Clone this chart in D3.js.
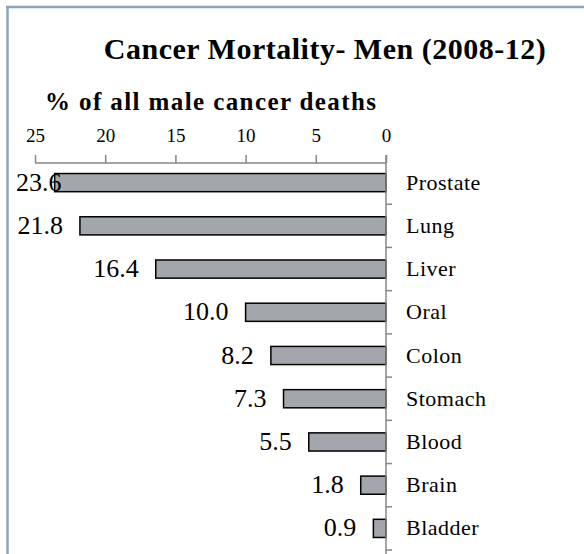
<!DOCTYPE html>
<html>
<head>
<meta charset="utf-8">
<script src="https://cdn.jsdelivr.net/npm/d3@7"></script>
<style>
  body { margin: 0; background: #fff; }
  text { font-family: "Liberation Serif", "DejaVu Serif", serif; fill: #000; }
</style>
</head>
<body>
<div id="chart"></div>
<script>
// Data
const categories = ["Prostate", "Lung", "Liver", "Oral", "Colon", "Stomach", "Blood", "Brain", "Bladder"];
const values = [23.6, 21.8, 16.4, 10.0, 8.2, 7.3, 5.5, 1.8, 0.9];
const tickValues = [25, 20, 15, 10, 5, 0];

const W = 584, H = 554;

const svg = d3.select("#chart")
    .append("svg")
    .attr("width", W)
    .attr("height", H);

// Chart frame (only left and top edges are visible)
svg.append("line")
    .attr("x1", 7.5).attr("x2", 7.5)
    .attr("y1", 6).attr("y2", H)
    .attr("stroke", "#8aa4b8").attr("stroke-width", 2.5);
svg.append("line")
    .attr("x1", 6).attr("x2", W)
    .attr("y1", 7).attr("y2", 7)
    .attr("stroke", "#8aa4b8").attr("stroke-width", 2.5);

// Scales: reversed x axis, zero on the right
const xScale = d3.scaleLinear()
    .domain([0, 25])
    .range([386, 35]);

const yScale = d3.scaleBand()
    .domain(categories)
    .range([161, 550])
    .padding(0);

const band = yScale.bandwidth();
const barH = band * 0.42;

// Titles
svg.append("text")
    .attr("x", 325)
    .attr("y", 59)
    .attr("text-anchor", "middle")
    .style("font-size", "30px")
    .style("font-weight", "bold")
    .style("letter-spacing", "0.5px")
    .text("Cancer Mortality- Men (2008-12)");

svg.append("text")
    .attr("x", 45)
    .attr("y", 110)
    .style("font-size", "25px")
    .style("font-weight", "bold")
    .style("letter-spacing", "1.4px")
    .text("% of all male cancer deaths");

// Top value axis
const xAxis = svg.append("g")
    .attr("transform", "translate(0,163)")
    .call(d3.axisTop(xScale).tickValues(tickValues).tickSize(8).tickPadding(13).tickFormat(d3.format("d")))
    .attr("font-family", "Liberation Serif")
    .attr("font-size", 19);
xAxis.select(".domain")
    .attr("d", `M${xScale(25)},0 L${xScale(0)},0`)
    .attr("stroke", "#868686").attr("stroke-width", 1.5);
xAxis.selectAll(".tick line").attr("stroke", "#868686").attr("stroke-width", 1.5);
xAxis.selectAll(".tick text")
    .attr("font-family", "Liberation Serif")
    .style("font-size", "19px");

// Bars
svg.selectAll("rect.bar")
    .data(values)
    .enter()
    .append("rect")
    .attr("class", "bar")
    .attr("x", d => xScale(d))
    .attr("y", (d, i) => yScale(categories[i]) + (band - barH) / 2)
    .attr("width", d => xScale(0) - xScale(d))
    .attr("height", barH)
    .attr("fill", "#a3a6ac")
    .attr("stroke", "#000")
    .attr("stroke-width", 1.5);

// Category axis on the right of the bars
svg.append("line")
    .attr("x1", xScale(0)).attr("x2", xScale(0))
    .attr("y1", 155).attr("y2", H)
    .attr("stroke", "#868686").attr("stroke-width", 1.5);

svg.selectAll("line.btick")
    .data(categories.slice(1).map(c => yScale(c)).concat([yScale.range()[1]]))
    .enter()
    .append("line")
    .attr("class", "btick")
    .attr("x1", xScale(0)).attr("x2", xScale(0) + 6)
    .attr("y1", d => d).attr("y2", d => d)
    .attr("stroke", "#868686").attr("stroke-width", 1.5);

svg.selectAll("text.cat")
    .data(categories)
    .enter()
    .append("text")
    .attr("class", "cat")
    .attr("x", 406)
    .attr("y", d => yScale(d) + band / 2 + 7)
    .style("font-size", "22px")
    .style("letter-spacing", "0.5px")
    .text(d => d);

// Value labels, pushed back inside the chart when they run off the left edge
svg.selectAll("text.val")
    .data(values)
    .enter()
    .append("text")
    .attr("class", "val")
    .attr("y", (d, i) => yScale(categories[i]) + band / 2 + 8)
    .attr("text-anchor", "end")
    .style("font-size", "26px")
    .text(d => d3.format(".1f")(d))
    .attr("x", function(d) {
        const w = this.getComputedTextLength();
        return Math.max(xScale(d) - 17, 16 + w);
    });
</script>
</body>
</html>
